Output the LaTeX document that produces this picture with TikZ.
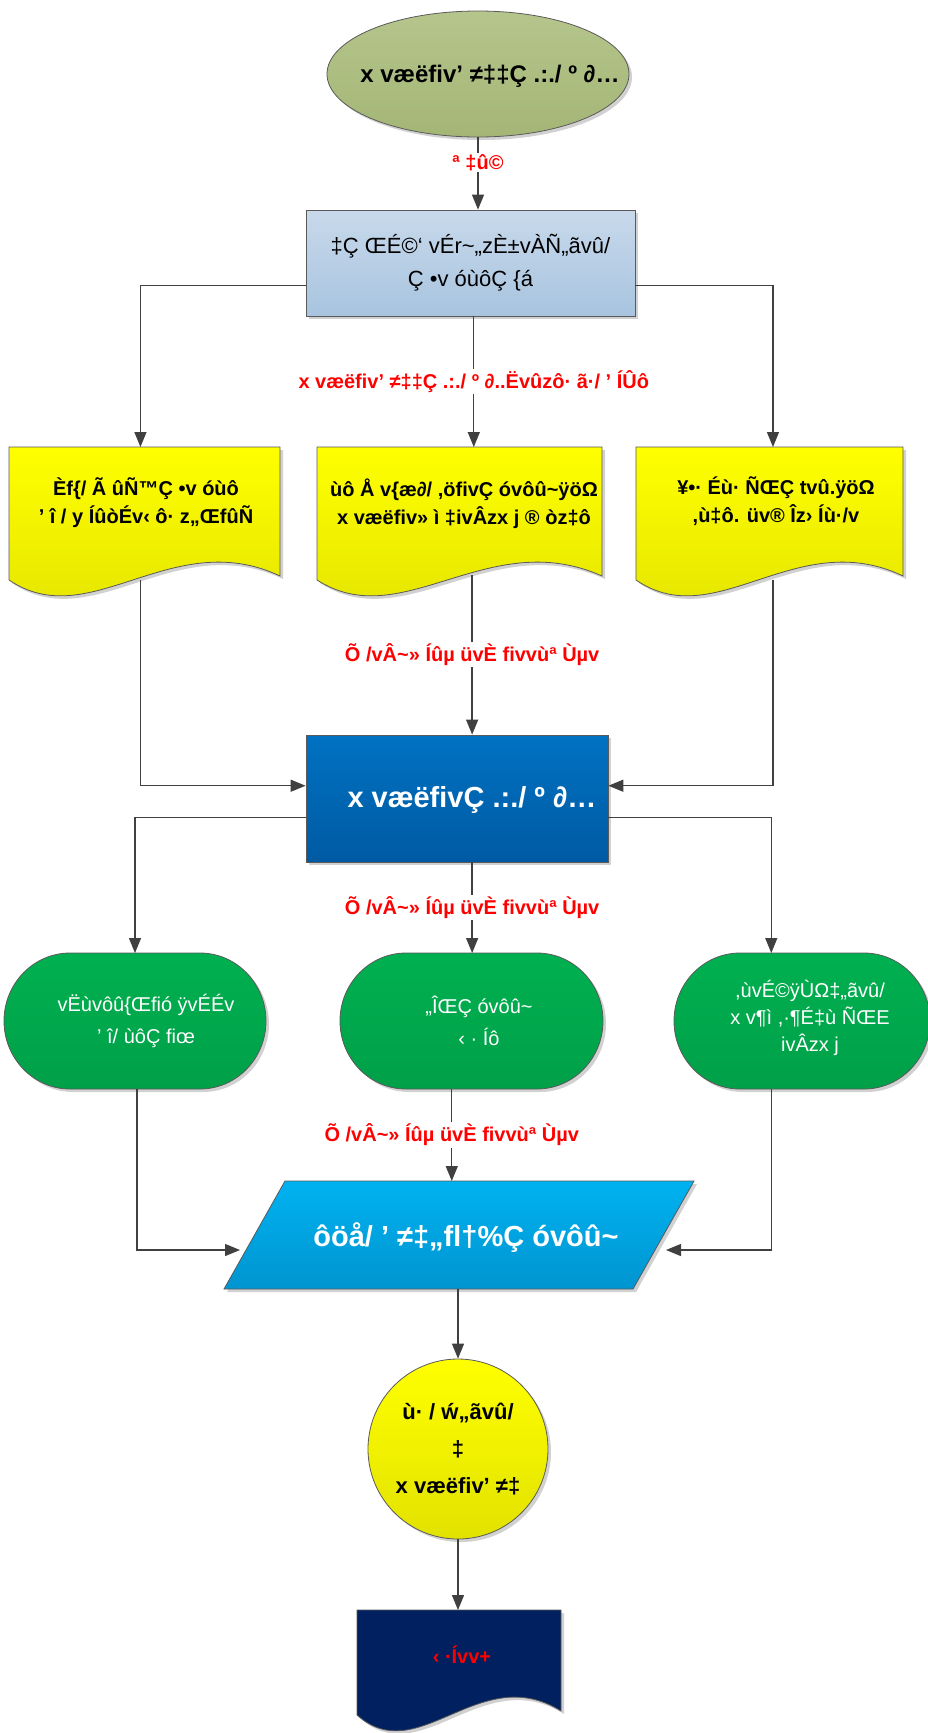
\documentclass[tikz,border=0pt]{standalone}
\usepackage{fontspec}
\setmainfont{Liberation Sans}
\usetikzlibrary{shapes.geometric,shadows,arrows.meta,calc}
\definecolor{lc}{HTML}{404040}
\definecolor{bc}{HTML}{5A5A5A}
\definecolor{olT}{HTML}{B5C58C}
\definecolor{olB}{HTML}{A4B676}
\definecolor{blT}{HTML}{C8D9EB}
\definecolor{blB}{HTML}{A8C4DF}
\definecolor{yT}{HTML}{FFFF00}
\definecolor{yB}{HTML}{E2E200}
\definecolor{dbT}{HTML}{0072C2}
\definecolor{dbB}{HTML}{005AA3}
\definecolor{gT}{HTML}{00B050}
\definecolor{gB}{HTML}{00A048}
\definecolor{cyT}{HTML}{00B2F0}
\definecolor{cyB}{HTML}{0095D0}
\definecolor{nv}{HTML}{002060}
\definecolor{rd}{HTML}{FF0000}
\tikzset{
  shd/.style={drop shadow={shadow xshift=3pt, shadow yshift=-3pt, fill=black!18, opacity=1}},
  conn/.style={draw=lc, line width=1.3pt, -{Triangle[length=15pt,width=12pt]}},
  lbl/.style={fill=white, text=rd, inner sep=1.5pt, font=\bfseries\fontsize{20}{24}\selectfont},
  ghost/.style={inner sep=0pt, outer sep=0pt},
  yellowshape/.style={draw=bc, line width=0.8pt, top color=yT, bottom color=yB, shd},
  greenshape/.style={draw=bc, line width=0.8pt, top color=gT, bottom color=gB, shd},
  doctext/.style={align=center, text=black, font=\bfseries\fontsize{20}{28}\selectfont},
  termtext/.style={align=center, text=white, font=\fontsize{20}{32}\selectfont},
}
\begin{document}
\begin{tikzpicture}[x=1pt, y=-1pt]
\useasboundingbox (0,0) rectangle (928,1733);
\fill[white] (0,0) rectangle (928,1733);

% ---------- top ellipse ----------
\node[ellipse, draw=bc, line width=0.8pt, top color=olT, bottom color=olB, shd,
      minimum width=302pt, minimum height=126pt, inner sep=0pt] (ell) at (478,74) {};
\node[font=\bfseries\fontsize{24}{28}\selectfont] (ellt) at (490,76) {x væëﬁv’ ≠‡‡Ç .:./ º ∂…};

% ---------- box 1 ----------
\node[rectangle, draw=bc, line width=0.8pt, top color=blT, bottom color=blB, shd,
      minimum width=329pt, minimum height=106pt, inner sep=0pt, align=center,
      font=\fontsize{22}{33}\selectfont] (b1) at (470.5,263)
      {‡Ç ŒÉ©‘ vÉr\textasciitilde„zÈ±vÀÑ„ãvû/\\Ç •v óùôÇ \{á};

% ---------- three documents ----------
\path[yellowshape] (9,447) -- (280,447) -- (280,576) .. controls (171.6,525) and (90.3,635) .. (9,580) -- cycle;
\path[yellowshape] (317,447) -- (602,447) -- (602,576) .. controls (488,525) and (402.5,635) .. (317,580) -- cycle;
\path[yellowshape] (636,447) -- (903,447) -- (903,576) .. controls (796.2,525) and (716.1,635) .. (636,580) -- cycle;
\node[ghost, minimum width=271pt, minimum height=133pt] (ld) at (144.5,513.5) {};
\node[ghost, minimum width=285pt, minimum height=133pt] (md) at (459.5,513.5) {};
\node[ghost, minimum width=267pt, minimum height=133pt] (rdoc) at (769.5,513.5) {};
\node[doctext] (ldt) at (146,503) {Èf\{/ Ã ûÑ™Ç •v óùô\\’ î / y ÍûòÉv‹ ô· z„ŒfûÑ};
\node[doctext] (mdt) at (464,504) {ùô Å v\{æ∂/ ,öfivÇ óvôû\textasciitilde ÿöΩ\\x væëﬁv» ì ‡ivÂzx j ® òz‡ô};
\node[doctext] (rdt) at (776,501) {¥•· Éù· ÑŒÇ tvû.ÿöΩ\\,ù‡ô. üv® Îz› Íù·/v};

% ---------- centre box ----------
\node[rectangle, draw=bc, line width=0.8pt, top color=dbT, bottom color=dbB, shd,
      minimum width=302pt, minimum height=127pt, inner sep=0pt] (cb) at (457,798.5) {};
\node[text=white, font=\bfseries\fontsize{29}{34}\selectfont] (cbt) at (472,800) {x væëﬁvÇ .:./ º ∂…};

% ---------- three terminals ----------
\path[greenshape] (70,953) -- (200,953) .. controls (236.4,953) and (266,983.5) .. (266,1021) .. controls (266,1058.5) and (236.4,1089) .. (200,1089) -- (70,1089) .. controls (33.6,1089) and (4,1058.5) .. (4,1021) .. controls (4,983.5) and (33.6,953) .. cycle;
\path[greenshape] (406,953) -- (537,953) .. controls (573.4,953) and (603,983.5) .. (603,1021) .. controls (603,1058.5) and (573.4,1089) .. (537,1089) -- (406,1089) .. controls (369.6,1089) and (340,1058.5) .. (340,1021) .. controls (340,983.5) and (369.6,953) .. cycle;
\path[greenshape] (740,953) -- (864,953) .. controls (900.4,953) and (930,983.5) .. (930,1021) .. controls (930,1058.5) and (900.4,1089) .. (864,1089) -- (740,1089) .. controls (703.6,1089) and (674,1058.5) .. (674,1021) .. controls (674,983.5) and (703.6,953) .. cycle;
\node[ghost, minimum width=262pt, minimum height=136pt] (lt) at (135,1021) {};
\node[ghost, minimum width=263pt, minimum height=136pt] (mt) at (471.5,1021) {};
\node[ghost, minimum width=256pt, minimum height=136pt] (rt) at (802,1021) {};
\node[termtext] (ltt) at (146,1021) {vËùvôû\{Œfió ÿvÉÉv\\’ î/ ùôÇ fiœ};
\node[termtext] (mtt) at (479,1021) {„ÎŒÇ  óvôû\textasciitilde\\‹ · Íô};
\node[termtext, font=\fontsize{20}{27}\selectfont] (rtt) at (810,1018) {,ùvÉ©ÿÙΩ‡„ãvû/\\x v¶ì ,·¶É‡ù ÑŒE\\ivÂzx j};

% ---------- parallelogram ----------
\path[draw=bc, line width=0.8pt, top color=cyT, bottom color=cyB, shd]
  (285,1181) -- (694,1181) -- (633,1289) -- (224,1289) -- cycle;
\node[ghost, minimum width=470pt, minimum height=108pt] (pg) at (459,1235) {};
\node[text=white, font=\bfseries\fontsize{29}{34}\selectfont] (pgt) at (466,1238) {ôöå/ ’ ≠‡„ﬂ†\%Ç óvôû\textasciitilde};

% ---------- circle ----------
\node[circle, draw=bc, line width=0.8pt, top color=yT, bottom color=yB, shd,
      minimum size=180pt, inner sep=0pt, align=center,
      font=\bfseries\fontsize{22}{37}\selectfont] (circ) at (458,1449)
      {ù· / ẃ„ãvû/\\‡\\x væëﬁv’ ≠‡};

% ---------- bottom document ----------
\path[draw=bc, line width=0.8pt, fill=nv, shd] (357,1610) -- (561,1610) -- (561,1711) .. controls (479.4,1660) and (418.2,1770) .. (357,1715) -- cycle;
\node[ghost, minimum width=204pt, minimum height=105pt] (bd) at (459,1662.5) {};
\node[text=rd, font=\bfseries\fontsize{20}{24}\selectfont] (bdt) at (462,1655) {‹ ·Ívv+};

% ---------- connector end points ----------
\coordinate (b1s) at ($(b1.south west)!0.51!(b1.south east)$);
\coordinate (mdb) at ($(md.south west)!0.54!(md.south east)$);
\coordinate (cbn) at ($(cb.north west)!0.55!(cb.north east)$);
\coordinate (cbs) at ($(cb.south west)!0.55!(cb.south east)$);
\coordinate (mtb) at ($(mt.south west)!0.425!(mt.south east)$);
\coordinate (ldb) at ($(ld.south west)!0.485!(ld.south east)$);
\coordinate (rdb) at ($(rdoc.south west)!0.513!(rdoc.south east)$);
\coordinate (rtn) at ($(rt.north west)!0.38!(rt.north east)$);
\coordinate (rtb) at ($(rt.south west)!0.38!(rt.south east)$);
\coordinate (ltb) at ($(lt.south west)!0.508!(lt.south east)$);
\coordinate (pgl) at ($(pg.west)+(16,15)$);
\coordinate (pgr) at ($(pg.east)+(-28,15)$);

% ---------- connectors ----------
\draw[conn] (ell.south) -- node[lbl, pos=0.35] (l0) {ª ‡û©} (ell.south |- b1.north);
\draw[conn] ($(b1.north west)!0.71!(b1.south west)$) -| (ldb |- ld.north);
\draw[conn] ($(b1.north east)!0.71!(b1.south east)$) -| (rdb |- rdoc.north);
\draw[conn] (b1s) -- node[lbl] (l1) {x væëﬁv’ ≠‡‡Ç .:./ º ∂..Ëvûzô· ã·/ ’ ÍÛô} (b1s |- md.north);

\draw[conn] (ldb) |- ($(cb.north west)!0.4!(cb.south west)$);
\draw[conn] (rdb) |- ($(cb.north east)!0.4!(cb.south east)$);
\draw[conn] ([yshift=5pt]cbn |- mdb) -- node[lbl] (l2) {Õ /vÂ\textasciitilde» Íûµ üvÈ fivvùª Ùµv} (cbn);

\draw[conn] ($(cb.north west)!0.65!(cb.south west)$) -| (lt.north);
\draw[conn] ($(cb.north east)!0.65!(cb.south east)$) -| (rtn);
\draw[conn] (cbs) -- node[lbl] (l3) {Õ /vÂ\textasciitilde» Íûµ üvÈ fivvùª Ùµv} (cbs |- mt.north);

\draw[conn] (ltb) |- (pgl);
\draw[conn] (rtb) |- (pgr);
\draw[conn] (mtb) -- node[lbl] (l4) {Õ /vÂ\textasciitilde» Íûµ üvÈ fivvùª Ùµv} (mtb |- pg.north);

\draw[conn] (pg.south -| circ.north) -- (circ.north);
\draw[conn] (circ.south) -- (circ.south |- bd.north);
\end{tikzpicture}
\end{document}
